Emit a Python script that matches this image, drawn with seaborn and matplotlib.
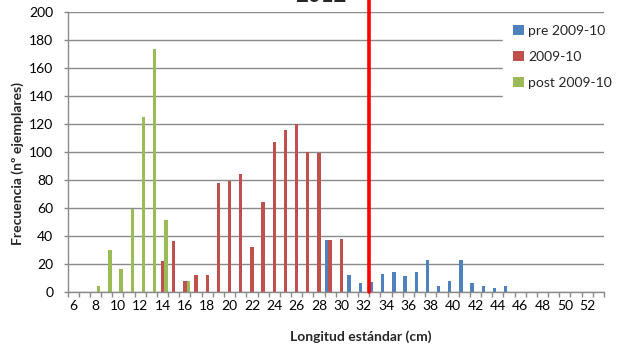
import numpy as np
import pandas as pd
import matplotlib
matplotlib.use("Agg")
import matplotlib.pyplot as plt
from matplotlib.patches import Patch
import seaborn as sns

# longitud estandar (cm), una categoria por cm
lengths = [6, 7, 8, 9, 10, 11, 12, 13, 14, 15, 16, 17, 18, 19, 20, 21, 22, 23, 24, 25,
           26, 27, 28, 29, 30, 31, 32, 33, 34, 35, 36, 37, 38, 39, 40, 41, 42, 43, 44, 45,
           46, 47, 48, 49, 50, 51, 52, 53]

pre_2009 = [0, 0, 0, 0, 0, 0, 0, 0, 0, 0, 0, 0, 0, 0, 0, 0, 0, 0, 0, 0,
            0, 0, 0, 37, 0, 12, 6, 7, 13, 14, 11, 14, 23, 4, 8, 23, 6, 4, 3, 4,
            0, 0, 0, 0, 0, 0, 0, 0]
year_2009 = [0, 0, 0, 0, 0, 0, 0, 0, 22, 36, 8, 12, 12, 78, 79, 84, 32, 64, 107, 116,
             120, 100, 99, 37, 38, 0, 0, 0, 0, 0, 0, 0, 0, 0, 0, 0, 0, 0, 0, 0,
             0, 0, 0, 0, 0, 0, 0, 0]
post_2009 = [0, 0, 4, 30, 16, 59, 125, 174, 51, 0, 8, 0, 0, 0, 0, 0, 0, 0, 0, 0,
             0, 0, 0, 0, 0, 0, 0, 0, 0, 0, 0, 0, 0, 0, 0, 0, 0, 0, 0, 0,
             0, 0, 0, 0, 0, 0, 0, 0]

series_names = ["pre 2009-10", "2009-10", "post 2009-10"]
colors = ["#4F81BD", "#C0504D", "#9BBB59"]
cut_length = 32.5  # linea roja entre 32 y 33 cm

sns.set_theme(style="white")
plt.rcParams['font.family'] = ['Lato', 'DejaVu Sans']

df = pd.DataFrame({
    "length": [str(l) for l in lengths] * 3,
    "serie": np.repeat(series_names, len(lengths)),
    "count": pre_2009 + year_2009 + post_2009,
})
order = [str(l) for l in lengths]

fig = plt.figure(figsize=(6.24, 3.53), dpi=100)
ax = fig.add_axes([67.5 / 624, 1 - 291.7 / 353, (604 - 67.5) / 624, (291.7 - 12.3) / 353])

sns.barplot(data=df, x="length", y="count", hue="serie", order=order,
            hue_order=series_names, palette=colors, saturation=1,
            width=0.9, linewidth=0, legend=False, ax=ax)

grid_col = "#8A8A8A"
ax.set_ylim(0, 200)
ax.set_xlim(-0.5, len(lengths) - 0.5)
ax.set_yticks(np.arange(0, 201, 20))
ax.yaxis.grid(True, color=grid_col, linewidth=1.0)
ax.set_axisbelow(True)

# ticks entre categorias, etiquetas cada 2 cm
ax.set_xticks(np.arange(-0.5, len(lengths), 1.0))
ax.set_xticklabels([])
ax.set_xticks([i for i, l in enumerate(lengths) if l % 2 == 0 and l <= 52], minor=True)
ax.set_xticklabels([str(l) for l in lengths if l % 2 == 0 and l <= 52], minor=True)
ax.tick_params(axis="x", which="major", direction="out", length=3.6, width=1,
               color=grid_col, bottom=True)
ax.tick_params(axis="x", which="minor", length=0, pad=6, labelsize=10, labelcolor="black")
ax.tick_params(axis="y", direction="out", length=3.2, width=1, color=grid_col,
               left=True, pad=7, labelsize=10, labelcolor="black")

for side in ["top", "right"]:
    ax.spines[side].set_visible(False)
for side in ["left", "bottom"]:
    ax.spines[side].set_color(grid_col)
    ax.spines[side].set_linewidth(1.0)

ax.set_xlabel("Longitud estándar (cm)", fontsize=10, fontweight="bold")
ax.set_ylabel("Frecuencia (nº ejemplares)", fontsize=10, fontweight="bold")
ax.xaxis.set_label_coords(0.547, -0.137)
ax.yaxis.set_label_coords(-0.081, 0.46)

# linea de corte
xcut = lengths.index(32) + (cut_length - 32)
ax.plot([xcut, xcut], [0, 215], color="#FF0000", linewidth=2.6, clip_on=False, zorder=5)

# titulo cortado en el borde superior, como en el original
fig.text(321 / 624, 1 - 2.5 / 353, "2012", ha="center", va="baseline",
         fontsize=16, fontweight="bold")

handles = [Patch(facecolor=c, edgecolor="none") for c in colors]
fig.legend(handles, series_names, loc="upper left",
           bbox_to_anchor=(503 / 624, 1 - 15 / 353), frameon=True,
           facecolor="white", edgecolor="white", framealpha=1, fancybox=False,
           borderpad=0.7, labelspacing=1.0, handlelength=0.8, handleheight=0.8,
           handletextpad=0.3, borderaxespad=0, fontsize=10)

fig.savefig("out.png", dpi=100)
